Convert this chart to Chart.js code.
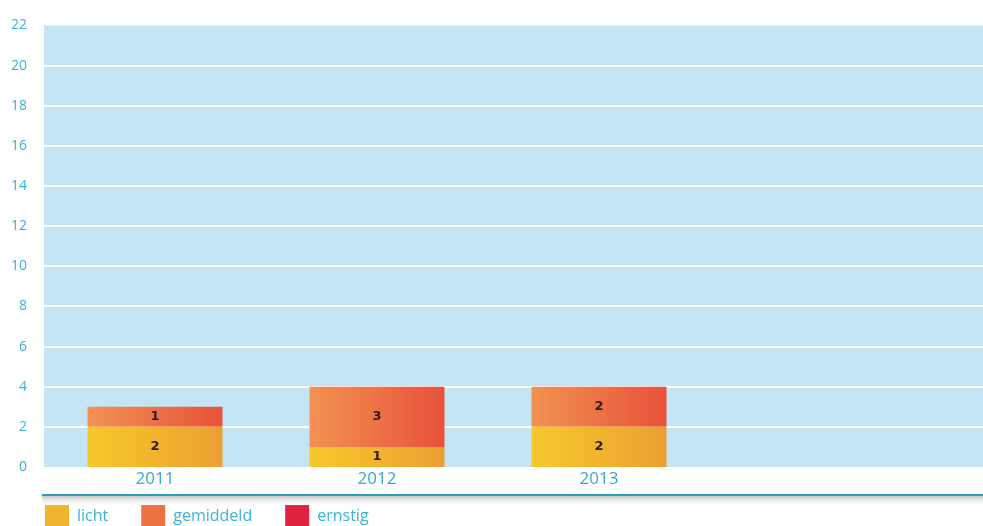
<!DOCTYPE html>
<html>
<head>
<meta charset="utf-8">
<script src="https://cdn.jsdelivr.net/npm/chart.js@4/dist/chart.umd.min.js"></script>
<style>
  html, body { margin: 0; padding: 0; background: #fff; overflow: hidden; }
  #wrap { position: relative; width: 983px; height: 537px; }
</style>
</head>
<body>
<div id="wrap"><canvas id="chart"></canvas></div>
<script>
// ── Data ──
const years = ['2011', '2012', '2013'];
const licht = [2, 1, 2];
const gemiddeld = [1, 3, 2];
const ernstig = [0, 0, 0];
const yTicks = [0, 2, 4, 6, 8, 10, 12, 14, 16, 18, 20, 22];

// ── Colours ──
const colors = {
  plotBg: '#c5e4f4',
  grid: '#ffffff',
  tick: '#3db0d8',
  xTick: '#3aa8cc',
  legendText: '#3ab2da',
  teal: '#2a9ec2',
  label: '#2a1e1a',
};
const ramps = {
  licht: ['#f6c82a', '#eba032'],
  gemiddeld: ['#f29252', '#e8523a'],
  ernstig: ['#e2243e', '#d81a36'],
};
const BAR_PCT = 0.608;

// horizontal gradient across each bar
function barFill(key) {
  return (ctx) => {
    const chart = ctx.chart;
    const area = chart.chartArea;
    if (!area) return ramps[key][0];
    const x = chart.scales.x;
    const cx = x.getPixelForValue(ctx.dataIndex);
    const half = (area.right - area.left) / years.length * BAR_PCT / 2;
    const g = chart.ctx.createLinearGradient(cx - half, 0, cx + half, 0);
    g.addColorStop(0, ramps[key][0]);
    g.addColorStop(1, ramps[key][1]);
    return g;
  };
}

// ── Plot background + grid lines running to the right edge ──
const backdrop = {
  id: 'backdrop',
  // the x axis box is kept short so the legend sits close; let its labels overflow it
  afterLayout(chart) {
    chart.scales.x.bottom = chart.scales.x.top + 30;
  },
  beforeDatasetsDraw(chart) {
    const { ctx, chartArea, scales } = chart;
    const right = chart.width;
    ctx.save();
    ctx.fillStyle = colors.plotBg;
    ctx.fillRect(chartArea.left, chartArea.top, right - chartArea.left, chartArea.bottom - chartArea.top);
    ctx.strokeStyle = colors.grid;
    ctx.lineWidth = 2;
    scales.y.ticks.forEach((t) => {
      if (t.value === 0 || t.value === 22) return;
      const y = Math.round(scales.y.getPixelForValue(t.value));
      ctx.beginPath();
      ctx.moveTo(chartArea.left, y);
      ctx.lineTo(right, y);
      ctx.stroke();
    });
    // teal base line with soft shadow
    const ly = chartArea.bottom + 28;
    const sh = ctx.createLinearGradient(0, ly, 0, ly + 12);
    sh.addColorStop(0, 'rgba(140,140,140,0.6)');
    sh.addColorStop(1, 'rgba(255,255,255,0)');
    ctx.fillStyle = sh;
    ctx.fillRect(chartArea.left - 2, ly, right, 12);
    ctx.fillStyle = colors.teal;
    ctx.fillRect(chartArea.left - 2, ly - 1, right, 2);
    ctx.restore();
  }
};

// ── Value labels in the middle of each segment ──
const valueLabels = {
  id: 'valueLabels',
  afterDatasetsDraw(chart) {
    const { ctx } = chart;
    ctx.save();
    ctx.font = 'bold 13px "DejaVu Sans", sans-serif';
    ctx.fillStyle = colors.label;
    ctx.textAlign = 'center';
    ctx.textBaseline = 'middle';
    chart.data.datasets.forEach((ds, i) => {
      const meta = chart.getDatasetMeta(i);
      meta.data.forEach((bar, j) => {
        const v = ds.data[j];
        if (!v) return;
        ctx.fillText(String(v), bar.x, (bar.y + bar.base) / 2);
      });
    });
    ctx.restore();
  }
};

new Chart(document.getElementById('chart'), {
  type: 'bar',
  data: {
    labels: years,
    datasets: [
      { label: 'licht', data: licht, backgroundColor: barFill('licht'), legendColor: '#f0b42e' },
      { label: 'gemiddeld', data: gemiddeld, backgroundColor: barFill('gemiddeld'), legendColor: '#ee7244' },
      { label: 'ernstig', data: ernstig, backgroundColor: barFill('ernstig'), legendColor: '#e0213f' },
    ]
  },
  options: {
    responsive: true,
    maintainAspectRatio: false,
    animation: false,
    layout: { padding: { top: 18, right: 273, left: 12, bottom: 0 } },
    datasets: {
      bar: { categoryPercentage: 1, barPercentage: BAR_PCT, borderWidth: 0 }
    },
    scales: {
      x: {
        stacked: true,
        grid: { display: false, drawTicks: false },
        border: { display: false },
        ticks: {
          color: colors.xTick,
          font: { family: "'Open Sans', sans-serif", size: 17 },
          padding: 2,
        },
        afterFit: (s) => { s.height = 5; },
      },
      y: {
        stacked: true,
        min: 0,
        max: 22,
        grid: { display: false, drawTicks: false },
        border: { display: false },
        afterBuildTicks: (s) => { s.ticks = yTicks.map((v) => ({ value: v })); },
        ticks: {
          color: colors.tick,
          font: { family: "'Open Sans', sans-serif", size: 14 },
          padding: 17,
        },
        afterFit: (s) => { s.width = 32; },
      }
    },
    plugins: {
      tooltip: { enabled: false },
      legend: {
        position: 'bottom',
        align: 'start',
        labels: {
          color: colors.legendText,
          font: { family: "'Open Sans', sans-serif", size: 16 },
          boxWidth: 24,
          boxHeight: 22,
          padding: 33,
          generateLabels: (chart) => chart.data.datasets.map((ds, i) => ({
            text: ds.label,
            fillStyle: ds.legendColor,
            strokeStyle: ds.legendColor,
            lineWidth: 0,
            fontColor: colors.legendText,
            datasetIndex: i,
          })),
        }
      }
    }
  },
  plugins: [backdrop, valueLabels]
});
</script>
</body>
</html>
